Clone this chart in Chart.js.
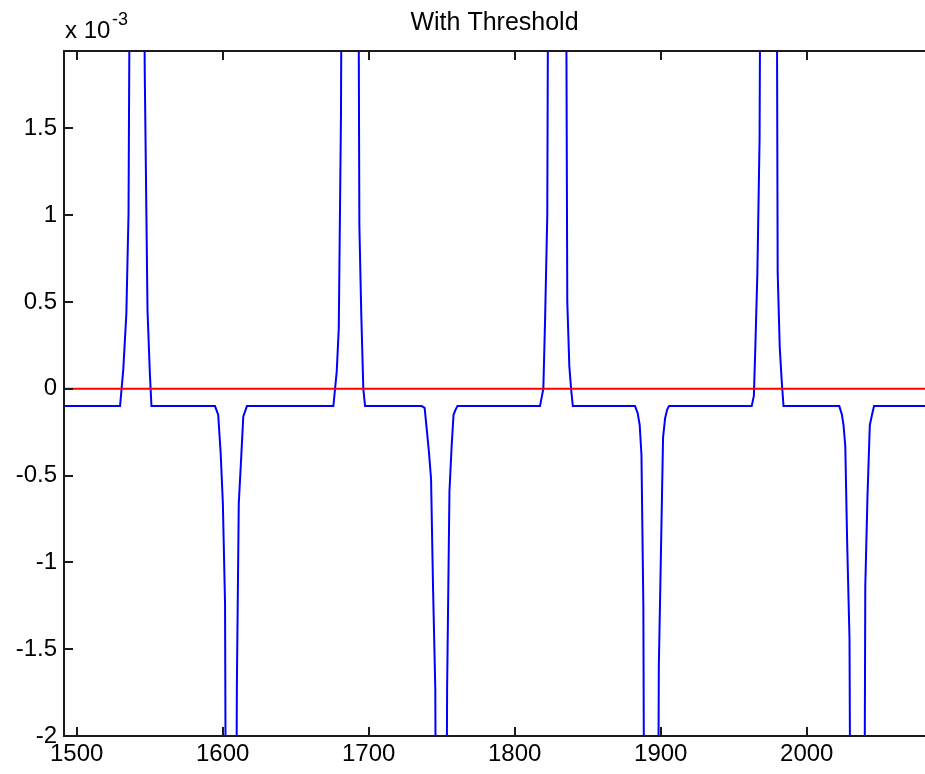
<!DOCTYPE html>
<html>
<head>
<meta charset="utf-8">
<script src="https://cdn.jsdelivr.net/npm/chart.js@4"></script>
<style>
  html, body { margin: 0; padding: 0; background: #fff; overflow: hidden; }
  canvas { display: block; }
</style>
</head>
<body>
<canvas id="threshold-chart" width="925" height="774"></canvas>
<script>
// sample index (x) and filtered signal (y, in units of 1e-3)
var timeX = [
    1490,
    1529.7, 1531.9, 1534.0, 1535.5, 1537.5, 1541.3, 1544.7, 1546.6, 1548.5, 1550.1, 1551.2,
    1594.7, 1596.9, 1598.6, 1600.1, 1601.6, 1602.9, 1605.7, 1608.4, 1609.7, 1611.0, 1612.7, 1614.1, 1616.6,
    1675.8, 1678.1, 1679.5, 1681.0, 1682.4, 1687.2, 1692.2, 1693.6, 1694.9, 1696.3, 1697.5,
    1736.3, 1738.3, 1739.7, 1741.2, 1742.7, 1744.1, 1745.6, 1747.0, 1749.5, 1752.3, 1753.7, 1755.3, 1756.8, 1758.1, 1759.5, 1760.8,
    1817.3, 1819.6, 1820.8, 1822.3, 1823.7, 1829.0, 1834.4, 1836.0, 1837.4, 1838.7, 1839.8,
    1882.4, 1884.2, 1885.6, 1886.8, 1888.1, 1889.4, 1893.3, 1897.3, 1898.7, 1900.2, 1901.6, 1903.0, 1904.4, 1905.7,
    1962.3, 1963.8, 1964.8, 1966.2, 1967.7, 1969.2, 1974.0, 1978.8, 1980.1, 1981.5, 1982.9, 1984.1,
    2022.3, 2024.1, 2025.2, 2026.4, 2027.7, 2029.3, 2030.8, 2034.8, 2038.8, 2040.1, 2041.6, 2043.2, 2044.7, 2046.1,
    2085
];
var signalY = [
    -0.1,
    -0.1, 0.11, 0.43, 1.01, 4.5, 6.0, 4.5, 1.83, 0.45, 0.09, -0.1,
    -0.1, -0.15, -0.37, -0.66, -1.24, -4.5, -6.0, -4.5, -1.71, -0.66, -0.39, -0.16, -0.1,
    -0.1, 0.10, 0.35, 1.58, 4.5, 6.0, 4.5, 0.94, 0.43, 0.0, -0.1,
    -0.1, -0.11, -0.23, -0.36, -0.52, -1.16, -1.73, -4.5, -6.0, -4.5, -1.72, -0.59, -0.33, -0.15, -0.12, -0.1,
    -0.1, 0.0, 0.40, 1.00, 4.5, 6.0, 4.5, 0.50, 0.13, -0.01, -0.1,
    -0.1, -0.14, -0.21, -0.38, -1.25, -4.5, -6.0, -4.5, -1.60, -0.92, -0.28, -0.17, -0.12, -0.1,
    -0.1, -0.04, 0.24, 0.67, 1.44, 4.5, 6.0, 4.5, 0.67, 0.24, 0.04, -0.1,
    -0.1, -0.15, -0.21, -0.33, -0.89, -1.44, -4.5, -6.0, -4.5, -1.14, -0.62, -0.21, -0.15, -0.1,
    -0.1
];
var threshold = 0;

var xTicks = [1500, 1600, 1700, 1800, 1900, 2000];
var yTicks = [-2, -1.5, -1, -0.5, 0, 0.5, 1, 1.5];
var xRange = [1491.3, 2081];
var yRange = [-2, 1.945];

var titleText = 'With Threshold';
var FONT = '"Liberation Sans", Arial, Helvetica, sans-serif';

var signalPoints = timeX.map(function (x, i) { return {x: x, y: signalY[i]}; });
var thresholdPoints = [{x: xRange[0], y: threshold}, {x: xRange[1], y: threshold}];

// box, inward tick marks, title and the exponent label
var axesFrame = {
    id: 'axesFrame',
    afterDraw: function (chart) {
        var ctx = chart.ctx, a = chart.chartArea;
        var xs = chart.scales.x, ys = chart.scales.y;
        ctx.save();
        ctx.strokeStyle = '#1a1a1a';
        ctx.lineWidth = 2;
        ctx.beginPath();
        ctx.moveTo(a.right + 4, a.top);
        ctx.lineTo(a.left, a.top);
        ctx.lineTo(a.left, a.bottom);
        ctx.lineTo(a.right + 4, a.bottom);
        ctx.stroke();

        ctx.beginPath();
        xTicks.forEach(function (v) {
            var px = Math.round(xs.getPixelForValue(v));
            ctx.moveTo(px, a.bottom);
            ctx.lineTo(px, a.bottom - 9);
            ctx.moveTo(px, a.top);
            ctx.lineTo(px, a.top + 9);
        });
        yTicks.forEach(function (v) {
            var py = Math.round(ys.getPixelForValue(v));
            ctx.moveTo(a.left, py);
            ctx.lineTo(a.left + 9, py);
        });
        ctx.stroke();

        ctx.fillStyle = '#000';
        ctx.textBaseline = 'alphabetic';
        ctx.textAlign = 'center';
        ctx.font = '25px ' + FONT;
        ctx.fillText(titleText, (a.left + a.right) / 2, 30);

        ctx.textAlign = 'left';
        ctx.font = '24px ' + FONT;
        ctx.fillText('x 10', a.left + 1, 38);
        ctx.font = '18px ' + FONT;
        ctx.fillText('-3', a.left + 48, 25);
        ctx.restore();
    }
};

var ctx = document.getElementById('threshold-chart');
new Chart(ctx, {
    type: 'scatter',
    data: {
        datasets: [{
            label: 'threshold',
            data: thresholdPoints,
            showLine: true,
            borderColor: '#ff0000',
            borderWidth: 2,
            pointRadius: 0,
            order: 0
        }, {
            label: 'signal',
            data: signalPoints,
            showLine: true,
            borderColor: '#0000ff',
            borderWidth: 2,
            pointRadius: 0,
            tension: 0,
            order: 1
        }]
    },
    options: {
        responsive: false,
        animation: false,
        devicePixelRatio: 1,
        layout: { padding: { top: 51, left: 0, right: 0, bottom: 0 } },
        plugins: {
            legend: { display: false },
            tooltip: { enabled: false },
            title: { display: false }
        },
        scales: {
            x: {
                type: 'linear',
                min: xRange[0],
                max: xRange[1],
                afterBuildTicks: function (s) { s.ticks = xTicks.map(function (v) { return {value: v}; }); },
                afterFit: function (s) { s.height = 38; },
                grid: { display: false, drawTicks: false },
                border: { display: false },
                ticks: {
                    color: '#000',
                    padding: 4,
                    maxRotation: 0,
                    autoSkip: false,
                    font: { family: FONT, size: 24 },
                    callback: function (v) { return String(v); }
                }
            },
            y: {
                type: 'linear',
                min: yRange[0],
                max: yRange[1],
                afterBuildTicks: function (s) { s.ticks = yTicks.map(function (v) { return {value: v}; }); },
                afterFit: function (s) { s.width = 64; },
                grid: { display: false, drawTicks: false },
                border: { display: false },
                ticks: {
                    color: '#000',
                    padding: 7,
                    autoSkip: false,
                    font: { family: FONT, size: 24 },
                    callback: function (v) { return String(v); }
                }
            }
        }
    },
    plugins: [axesFrame]
});
</script>
</body>
</html>
